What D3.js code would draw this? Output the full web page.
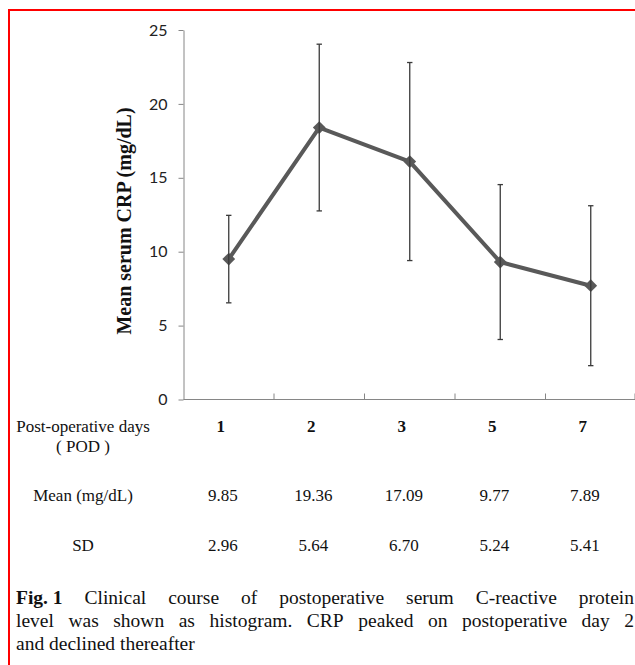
<!DOCTYPE html>
<html>
<head>
<meta charset="utf-8">
<script src="https://cdn.jsdelivr.net/npm/d3@7"></script>
<style>
  html, body { margin: 0; padding: 0; background: #fff; }
  svg { display: block; }
</style>
</head>
<body>
<svg id="chart" width="635" height="665"></svg>
<script>
// ---- data ----
const days = ["1", "2", "3", "5", "7"];
const plottedMeans = [9.5, 18.4, 16.1, 9.3, 7.7];
const sds = [2.96, 5.64, 6.70, 5.24, 5.41];
const tableMeans = ["9.85", "19.36", "17.09", "9.77", "7.89"];
const tableSDs = ["2.96", "5.64", "6.70", "5.24", "5.41"];
const yTicks = [0, 5, 10, 15, 20, 25];
const yTitle = "Mean serum CRP (mg/dL)";
const rowLabels = ["Post-operative days", "( POD )", "Mean (mg/dL)", "SD"];
const captionLines = [
  ["Fig. 1", "Clinical", "course", "of", "postoperative", "serum", "C-reactive", "protein"],
  ["level", "was", "shown", "as", "histogram.", "CRP", "peaked", "on", "postoperative", "day", "2"],
  ["and", "declined", "thereafter"]
];

const svg = d3.select("#chart");
const serif = "'Liberation Serif', 'Times New Roman', serif";
const sans = "Lato, 'Liberation Sans', sans-serif";

// red frame
svg.append("line").attr("x1", 8).attr("x2", 635).attr("y1", 10).attr("y2", 10)
  .attr("stroke", "#ff0000").attr("stroke-width", 2);
svg.append("line").attr("x1", 9).attr("x2", 9).attr("y1", 9).attr("y2", 665)
  .attr("stroke", "#ff0000").attr("stroke-width", 2);

// scales
const x = d3.scaleBand().domain(days).range([183.5, 636]).padding(0);
const y = d3.scaleLinear().domain([0, 25]).range([399.5, 30]);
const cx = d => x(d) + x.bandwidth() / 2;

// y axis
const yAxis = svg.append("g").attr("transform", "translate(183.5,0)")
  .call(d3.axisLeft(y).tickValues(yTicks).tickSize(5).tickPadding(11).tickSizeOuter(0));
yAxis.select(".domain").attr("stroke", "#868686");
yAxis.selectAll(".tick line").attr("stroke", "#868686");
yAxis.selectAll(".tick text").attr("font-family", sans).attr("font-size", 16).attr("fill", "#222");

// x axis: ticks at category boundaries, pointing up
const xAxis = svg.append("g").attr("transform", "translate(0,399.5)");
xAxis.append("line").attr("x1", 183.5).attr("x2", 636).attr("stroke", "#868686");
xAxis.selectAll("line.t").data(days.slice(1).concat(["end"])).join("line").attr("class", "t")
  .attr("x1", (d, i) => i < days.length - 1 ? x(d) : x.range()[1] - 1)
  .attr("x2", (d, i) => i < days.length - 1 ? x(d) : x.range()[1] - 1)
  .attr("y1", 0).attr("y2", -6).attr("stroke", "#868686");

// y title
svg.append("text")
  .attr("transform", `translate(131,221) rotate(-90)`)
  .attr("text-anchor", "middle")
  .attr("font-family", serif).attr("font-weight", "bold").attr("font-size", 20)
  .attr("fill", "#111")
  .text(yTitle);

// line
const pts = days.map((d, i) => ({ d, m: plottedMeans[i], sd: sds[i] }));
svg.append("path").datum(pts)
  .attr("fill", "none").attr("stroke", "#595959").attr("stroke-width", 4)
  .attr("stroke-linejoin", "round")
  .attr("d", d3.line().x(p => cx(p.d)).y(p => y(p.m)));

// markers
svg.selectAll("path.mk").data(pts).join("path").attr("class", "mk")
  .attr("d", d3.symbol(d3.symbolSquare, 82)())
  .attr("transform", p => `translate(${cx(p.d)},${y(p.m)}) rotate(45)`)
  .attr("fill", "#595959");

// error bars
const eb = svg.selectAll("g.eb").data(pts).join("g").attr("class", "eb")
  .attr("stroke", "#3a3a3a").attr("stroke-width", 1.3);
eb.append("line").attr("x1", p => cx(p.d)).attr("x2", p => cx(p.d))
  .attr("y1", p => y(p.m + p.sd)).attr("y2", p => y(p.m - p.sd));
eb.append("line").attr("x1", p => cx(p.d) - 2.7).attr("x2", p => cx(p.d) + 2.7)
  .attr("y1", p => y(p.m + p.sd)).attr("y2", p => y(p.m + p.sd));
eb.append("line").attr("x1", p => cx(p.d) - 2.7).attr("x2", p => cx(p.d) + 2.7)
  .attr("y1", p => y(p.m - p.sd)).attr("y2", p => y(p.m - p.sd));

// table
const rowY = [432, 452, 501, 551];
const labelX = 83;
svg.selectAll("text.rl").data(rowLabels).join("text").attr("class", "rl")
  .attr("x", labelX).attr("y", (d, i) => rowY[i])
  .attr("text-anchor", "middle").attr("font-family", serif).attr("font-size", 17)
  .attr("fill", "#111").attr("xml:space", "preserve")
  .text(d => d);

svg.selectAll("text.day").data(days).join("text").attr("class", "day")
  .attr("x", d => cx(d) - 8).attr("y", rowY[0])
  .attr("text-anchor", "middle").attr("font-family", serif).attr("font-weight", "bold")
  .attr("font-size", 17).attr("fill", "#111").text(d => d);

svg.selectAll("text.mean").data(tableMeans).join("text").attr("class", "mean")
  .attr("x", (d, i) => cx(days[i]) - 6).attr("y", rowY[2])
  .attr("text-anchor", "middle").attr("font-family", serif).attr("font-size", 17)
  .attr("fill", "#111").text(d => d);

svg.selectAll("text.sd").data(tableSDs).join("text").attr("class", "sd")
  .attr("x", (d, i) => cx(days[i]) - 6).attr("y", rowY[3])
  .attr("text-anchor", "middle").attr("font-family", serif).attr("font-size", 17)
  .attr("fill", "#111").text(d => d);

// caption (justified lines)
const capLeft = 16, capRight = 634;
const capY = [604, 627, 650];
captionLines.forEach((words, li) => {
  const g = svg.append("g");
  const els = words.map((w, wi) => g.append("text")
    .attr("y", capY[li])
    .attr("font-family", serif).attr("font-size", 19.5).attr("fill", "#111")
    .attr("font-weight", (li === 0 && wi === 0) ? "bold" : "normal")
    .text(w));
  const widths = els.map(e => e.node().getComputedTextLength());
  const total = d3.sum(widths);
  const justify = li < captionLines.length - 1;
  const gap = justify ? (capRight - capLeft - total) / (words.length - 1) : 4.9;
  let xp = capLeft;
  els.forEach((e, i) => { e.attr("x", xp); xp += widths[i] + gap; });
});
</script>
</body>
</html>
